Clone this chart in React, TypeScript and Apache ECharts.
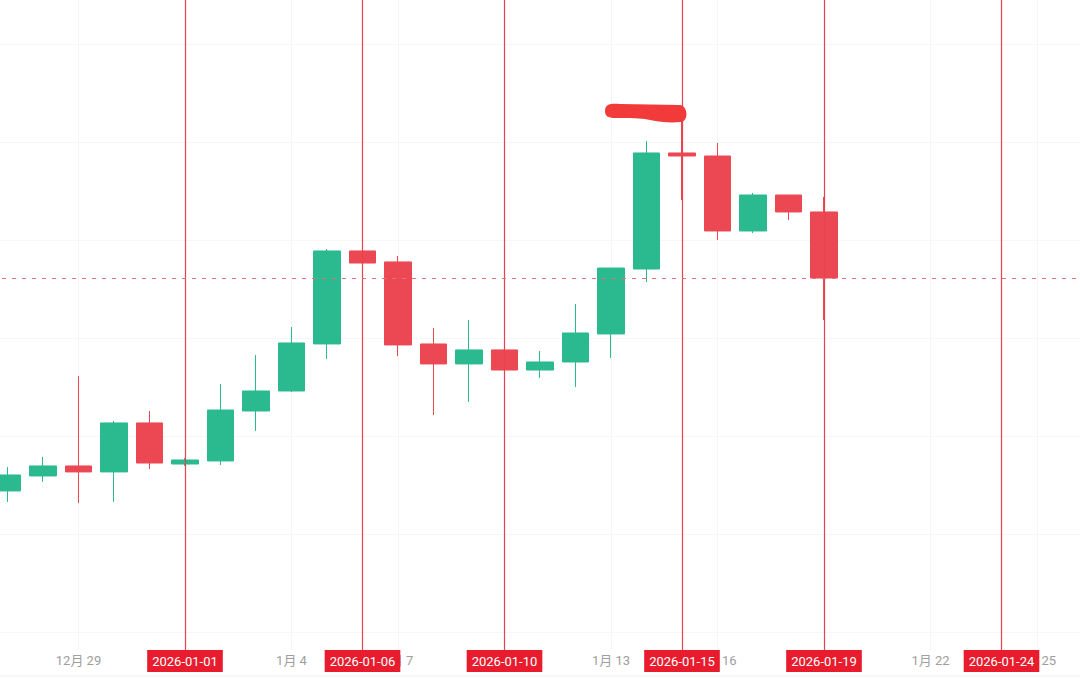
import React, { useEffect, useRef } from "react";
import * as echarts from "echarts";

// Axis categories (one per day)
const axisDates = [
  "2025-12-26", "2025-12-27", "2025-12-28", "2025-12-29", "2025-12-30", "2025-12-31",
  "2026-01-01", "2026-01-02", "2026-01-03", "2026-01-04", "2026-01-05", "2026-01-06",
  "2026-01-07", "2026-01-08", "2026-01-09", "2026-01-10", "2026-01-11", "2026-01-12",
  "2026-01-13", "2026-01-14", "2026-01-15", "2026-01-16", "2026-01-17", "2026-01-18",
  "2026-01-19", "2026-01-20", "2026-01-21", "2026-01-22", "2026-01-23", "2026-01-24",
  "2026-01-25", "2026-01-26", "2026-01-27",
];

// Candles
const candleDates = [
  "2025-12-27", "2025-12-28", "2025-12-29", "2025-12-30", "2025-12-31", "2026-01-01",
  "2026-01-02", "2026-01-03", "2026-01-04", "2026-01-05", "2026-01-06", "2026-01-07",
  "2026-01-08", "2026-01-09", "2026-01-10", "2026-01-11", "2026-01-12", "2026-01-13",
  "2026-01-14", "2026-01-15", "2026-01-16", "2026-01-17", "2026-01-18", "2026-01-19",
];
const opens = [
  54.39, 55.92, 56.94, 56.33, 61.33, 57.14, 57.45, 62.55, 64.59, 69.39, 78.88, 77.76,
  69.39, 67.35, 68.78, 66.73, 67.55, 70.41, 77.04, 88.88, 88.57, 80.92, 84.59, 82.86,
];
const closes = [
  56.02, 56.94, 56.33, 61.33, 57.24, 57.55, 62.65, 64.59, 69.49, 78.88, 77.65, 69.29,
  67.35, 68.78, 66.73, 67.55, 70.51, 77.14, 88.88, 88.57, 80.92, 84.59, 82.86, 76.12,
];
const lows = [
  53.27, 55.31, 53.16, 53.27, 56.63, 56.94, 57.04, 60.51, 64.49, 67.86, 77.65, 68.16,
  62.14, 63.47, 66.73, 65.92, 65.0, 67.96, 75.71, 84.08, 80.0, 80.71, 82.04, 71.84,
];
const highs = [
  56.84, 57.86, 66.12, 61.53, 62.55, 57.76, 65.31, 68.27, 71.12, 79.08, 78.88, 78.37,
  71.02, 71.84, 68.78, 68.67, 73.47, 77.14, 90.1, 92.65, 89.9, 84.8, 84.59, 84.39,
];

// Marked dates (vertical lines with tags)
const markedDates = ["2026-01-01", "2026-01-06", "2026-01-10", "2026-01-15", "2026-01-19", "2026-01-24"];
// Faint horizontal grid levels
const gridLevels = [40, 50, 60, 70, 80, 90, 100];

const scribblePath =
  "M605,111 C605,104 611,103 620,104 L680,105 C688,106 689,121 681,122 C670,123 660,122 650,120 C640,118 630,118 615,118 C608,118 605,116 605,111 Z";
echarts.graphic.registerShape("scribble", echarts.graphic.extendPath(scribblePath, {}));

const UP = "#2bba8f";
const DOWN = "#ec4854";
const SHIFT = 28; // chart canvas extends 28px beyond each side of the viewport

export default function App() {
  const ref = useRef<HTMLDivElement>(null);
  useEffect(() => {
    if (!ref.current) return;
    const chart = echarts.init(ref.current, null, { renderer: "svg" });
    const candleData = candleDates.map((d, i) => [d, opens[i], closes[i], lows[i], highs[i]]);
    const lastClose = closes[closes.length - 1];
    const every3 = (i: number) => i % 3 === 0;
    chart.setOption({
      animation: false,
      backgroundColor: "#ffffff",
      grid: { left: 0, right: 0, top: 0, bottom: 29, containLabel: false, outerBoundsMode: "none" },
      xAxis: {
        type: "category",
        data: axisDates,
        boundaryGap: false,
        axisLine: { show: false },
        axisTick: { show: false },
        axisLabel: {
          interval: (i: number) => i > 0 && i % 3 === 0,
          margin: 4,
          color: "#9e9e9e",
          fontSize: 13,
          fontFamily: "Roboto, 'Noto Sans CJK SC', sans-serif",
          formatter: (v: string) => {
            const p = v.split("-");
            return `${+p[1]}月 ${+p[2]}`;
          },
        },
        splitLine: { show: true, interval: every3, lineStyle: { color: "#f5f5f5", width: 1 } },
      },
      yAxis: {
        type: "value",
        min: 38.16,
        max: 104.49,
        show: false,
        splitLine: { show: false },
      },
      graphic: [
        {
          type: "line",
          shape: { x1: 0, y1: 676, x2: 1136, y2: 676 },
          style: { stroke: "#efefef", lineWidth: 1 },
          z: 1,
        },
        {
          type: "scribble",
          x: SHIFT,
          y: 0,
          style: { fill: "#f23a3a" },
          z: 100,
        },
      ],
      series: [
        {
          type: "line",
          data: [],
          silent: true,
          markLine: {
            z: 1,
            silent: true,
            symbol: "none",
            label: { show: false },
            lineStyle: { color: "#f7f7f7", width: 1, type: "solid" },
            data: gridLevels.map((v) => ({ yAxis: v })),
          },
        },
        {
          type: "candlestick",
          clip: false,
          barWidth: 27,
          encode: { x: 0, y: [1, 2, 3, 4] },
          data: candleData,
          itemStyle: {
            color: UP,
            color0: DOWN,
            borderColor: UP,
            borderColor0: DOWN,
            borderWidth: 1,
          },
          markLine: {
            silent: true,
            symbol: "none",
            data: [
              ...markedDates.map((d) => ({
                xAxis: d,
                lineStyle: { color: "#e6434f", width: 1.2, type: "solid" },
                label: {
                  show: true,
                  position: "start",
                  distance: 0,
                  formatter: d,
                  color: "#ffffff",
                  backgroundColor: "#e81c2d",
                  padding: [3, 5],
                  lineHeight: 16,
                  fontSize: 13,
                  fontFamily: "Roboto, sans-serif",
                },
              })),
              {
                yAxis: lastClose,
                lineStyle: { color: "#e0707f", width: 1, type: [4, 6] },
                label: { show: false },
              },
            ],
          },
        },
      ],
    });
    return () => chart.dispose();
  }, []);
  return (
    <div
      style={{ position: "fixed", left: 0, top: 0, width: 1080, height: 679, overflow: "hidden", background: "#fff" }}
    >
      <div
        ref={ref}
        style={{ position: "absolute", left: -SHIFT, top: 0, width: 1080 + 2 * SHIFT, height: 679 }}
      />
    </div>
  );
}
